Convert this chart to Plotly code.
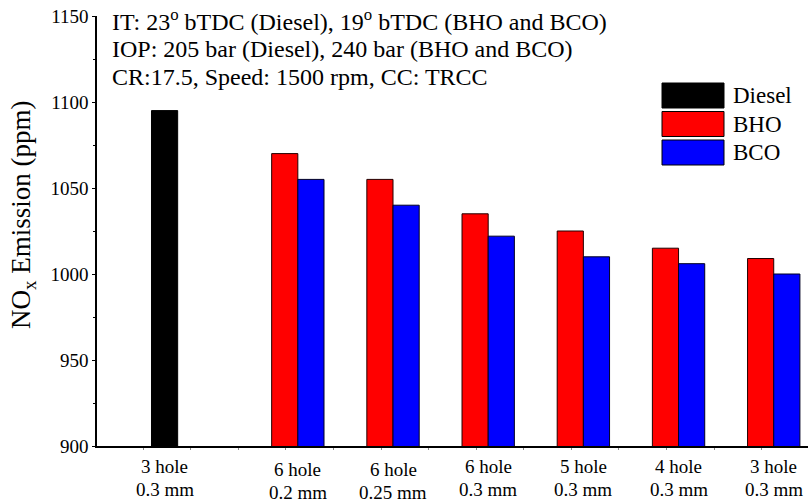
import plotly.graph_objects as go

# ---- data ----
hole_counts = ["3 hole", "6 hole", "6 hole", "6 hole", "5 hole", "4 hole", "3 hole"]
hole_sizes = ["0.3 mm", "0.2 mm", "0.25 mm", "0.3 mm", "0.3 mm", "0.3 mm", "0.3 mm"]
group_pos = [0, 1.4, 2.4, 3.4, 4.4, 5.4, 6.4]
diesel_vals = [1095]
bho_vals = [1070, 1055, 1035, 1025, 1015, 1009]
bco_vals = [1055, 1040, 1022, 1010, 1006, 1000]
series_names = ["Diesel", "BHO", "BCO"]
series_colors = ["#000000", "#ff0000", "#0000ff"]
y_title = "NO<sub>x</sub> Emission (ppm)"
notes = [
    "IT: 23<sup>o</sup> bTDC (Diesel), 19<sup>o</sup> bTDC (BHO and BCO)",
    "IOP: 205 bar (Diesel), 240 bar (BHO and BCO)",
    "CR:17.5, Speed: 1500 rpm, CC: TRCC",
]

FONT = "Liberation Serif, Times New Roman, serif"
W = 0.275
L, R, T, B = 97, 3, 16, 56
PW, PH = 811 - L - R, 502 - T - B


def px(xp):
    return (xp - L) / PW


def py(yp):
    return 1 - (yp - T) / PH


fig = go.Figure()
fig.add_trace(go.Bar(x=group_pos[:1], y=diesel_vals, width=W, offset=-W / 2,
                     marker=dict(color=series_colors[0], line=dict(color="#000", width=1)),
                     name=series_names[0], showlegend=False))
fig.add_trace(go.Bar(x=group_pos[1:], y=bho_vals, width=W, offset=-W,
                     marker=dict(color=series_colors[1], line=dict(color="#200", width=1)),
                     name=series_names[1], showlegend=False))
fig.add_trace(go.Bar(x=group_pos[1:], y=bco_vals, width=W, offset=0,
                     marker=dict(color=series_colors[2], line=dict(color="#002", width=1)),
                     name=series_names[2], showlegend=False))

# category labels (two lines)
for i, (gx, hc, hs) in enumerate(zip(group_pos, hole_counts, hole_sizes)):
    dy = 0 if i in (0, 3, 4, 5, 6) else 3
    fig.add_annotation(x=gx, y=0, xref="x", yref="paper", yanchor="middle", yshift=-20 - dy,
                       text=hc, showarrow=False, font=dict(family=FONT, size=19, color="#000"))
    fig.add_annotation(x=gx, y=0, xref="x", yref="paper", yanchor="middle", yshift=-43 - dy,
                       text=hs, showarrow=False, font=dict(family=FONT, size=19, color="#000"))

# notes
for i, t in enumerate(notes):
    fig.add_annotation(x=px(110), y=py(20 + 28.5 * i), xref="paper", yref="paper", text=t,
                       showarrow=False, xanchor="left", yanchor="middle",
                       font=dict(family=FONT, size=24, color="#000"))

# legend drawn manually
for i, (nm, col) in enumerate(zip(series_names, series_colors)):
    top = 83 + 28.5 * i
    fig.add_shape(type="rect", xref="paper", yref="paper",
                  x0=px(662), x1=px(724), y0=py(top), y1=py(top + 25),
                  fillcolor=col, line=dict(color="#000", width=1))
    fig.add_annotation(x=px(731), y=py(top + 12.5), xref="paper", yref="paper",
                       text=nm, showarrow=False, xanchor="left", yanchor="middle",
                       font=dict(family=FONT, size=23, color="#000"))

# y-axis title
fig.add_annotation(x=px(23), y=py(215), xref="paper", yref="paper", text=y_title,
                   textangle=-90, showarrow=False, xanchor="center", yanchor="middle",
                   font=dict(family=FONT, size=27, color="#000"))

fig.update_layout(
    width=811, height=502,
    margin=dict(l=L, r=R, t=T, b=B),
    paper_bgcolor="white", plot_bgcolor="white",
    barmode="overlay",
    font=dict(family=FONT, color="#000"),
    xaxis=dict(range=[-0.71, 6.76], showticklabels=False, showgrid=False,
               zeroline=False, showline=True, linecolor="#000", linewidth=1.5,
               tickmode="linear", tick0=-0.226, dtick=0.5, ticks="outside", ticklen=2,
               tickcolor="#888"),
    yaxis=dict(range=[900, 1150], dtick=50, tick0=900, showgrid=False, zeroline=False,
               showline=True, linecolor="#000", linewidth=1.5, ticks="outside", ticklen=3,
               tickcolor="#000", tickfont=dict(family=FONT, size=19, color="#000"),
               minor=dict(dtick=25, ticks="outside", ticklen=2, tickcolor="#000")),
)

fig.write_html("out.html")
